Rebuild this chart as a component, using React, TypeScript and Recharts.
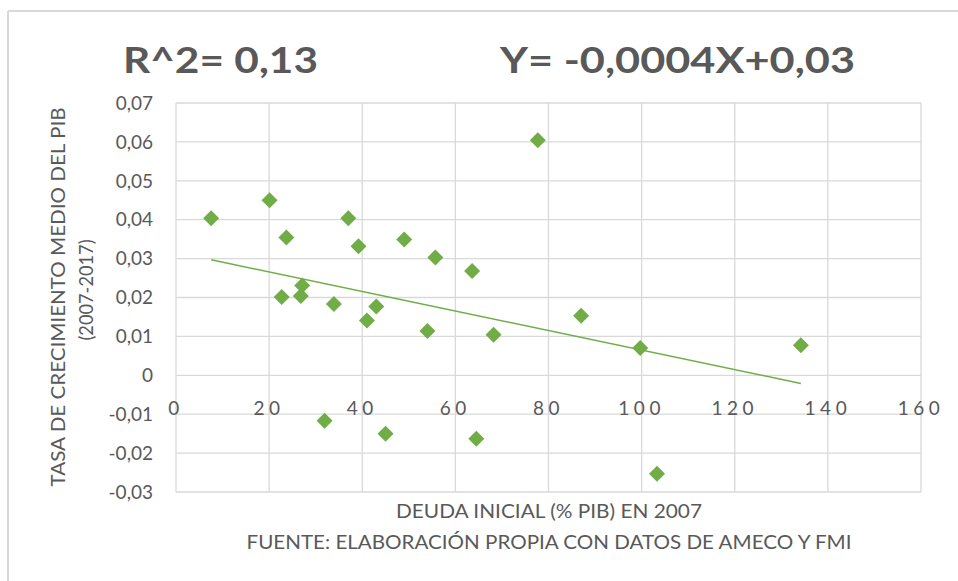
import React from 'react';
import { ScatterChart, Scatter, XAxis, YAxis, CartesianGrid, ReferenceLine } from 'recharts';

// deuda inicial (% PIB) 2007 vs tasa de crecimiento medio del PIB 2007-2017
const debtX = [
  7.55, 20.1, 23.7, 37.0, 39.2, 49.0, 55.7, 63.6, 77.7, 27.1, 22.7, 26.8,
  33.9, 43.0, 41.0, 54.0, 68.2, 31.9, 45.0, 64.5, 87.0, 99.7, 134.2, 103.3,
];
const growthY = [
  0.0404, 0.045, 0.0354, 0.0404, 0.0332, 0.0349, 0.0303, 0.0268, 0.0604, 0.0231, 0.0201, 0.0204,
  0.0183, 0.0177, 0.0141, 0.0114, 0.0104, -0.0117, -0.015, -0.0163, 0.0153, 0.007, 0.0077, -0.0253,
];

// trendline ends
const trendX = [7.55, 134.2];
const trendY = [0.0297, -0.0021];

const xTicks = [0, 20, 40, 60, 80, 100, 120, 140, 160];
const yTicks = [-0.03, -0.02, -0.01, 0, 0.01, 0.02, 0.03, 0.04, 0.05, 0.06, 0.07];

const GREEN = '#70AD47';
const TEXT = '#595959';
const GRID = '#d9d9d9';
const FONT = 'Lato, "Open Sans", sans-serif';

const points = debtX.map((x, i) => ({ x, y: growthY[i] }));

const fmtY = (v: number) => (v === 0 ? '0' : v.toFixed(2).replace('.', ','));

const Diamond = (props: any) => {
  const { cx, cy } = props;
  const r = 8;
  return (
    <polygon
      points={`${cx},${cy - r} ${cx + r},${cy} ${cx},${cy + r} ${cx - r},${cy}`}
      fill={GREEN}
    />
  );
};

// Excel puts the x labels next to the y=0 crossing, not under the plot
const XTick = (props: any) => {
  const { x, y, payload } = props;
  return (
    <text
      x={x}
      y={y - 87}
      textAnchor="middle"
      dominantBaseline="central"
      fill={TEXT}
      fontSize={19}
      fontFamily={FONT}
      letterSpacing={4.5}
    >
      {payload.value}
    </text>
  );
};

export default function App() {
  return (
    <div style={{ position: 'absolute', left: 0, top: 0, width: 958, height: 581, background: '#fff' }}>
      <ScatterChart width={958} height={581} margin={{ top: 103, right: 37, bottom: 0, left: 0 }}>
        <CartesianGrid stroke={GRID} strokeWidth={1.3} />
        <XAxis
          type="number"
          dataKey="x"
          domain={[0, 160]}
          ticks={xTicks}
          interval={0}
          axisLine={false}
          tickLine={false}
          tickSize={0}
          height={89}
          tick={<XTick />}
        />
        <YAxis
          type="number"
          dataKey="y"
          domain={[-0.03, 0.07]}
          ticks={yTicks}
          interval={0}
          width={176}
          axisLine={false}
          tickLine={false}
          tickSize={0}
          tickMargin={23}
          tickFormatter={fmtY}
          tick={{ fill: TEXT, fontSize: 19, fontFamily: FONT }}
        />
        <ReferenceLine
          segment={[
            { x: trendX[0], y: trendY[0] },
            { x: trendX[1], y: trendY[1] },
          ]}
          stroke={GREEN}
          strokeWidth={1.4}
        />
        <Scatter data={points} shape={Diamond} isAnimationActive={false} />
      </ScatterChart>
      <svg
        width={958}
        height={581}
        style={{ position: 'absolute', left: 0, top: 0, pointerEvents: 'none' }}
      >
        <line x1={8} y1={11} x2={958} y2={11} stroke={GRID} strokeWidth={2} />
        <line x1={8} y1={11} x2={8} y2={581} stroke={GRID} strokeWidth={2} />
        <text x={123} y={73} fill={TEXT} fontSize={37} fontWeight="bold" fontFamily={FONT} textLength={195} lengthAdjust="spacingAndGlyphs">
          R^2= 0,13
        </text>
        <text x={500} y={73} fill={TEXT} fontSize={37} fontWeight="bold" fontFamily={FONT} textLength={355} lengthAdjust="spacingAndGlyphs">
          Y= -0,0004X+0,03
        </text>
        <text x={549} y={518} textAnchor="middle" fill={TEXT} fontSize={19} fontFamily={FONT} textLength={306} lengthAdjust="spacingAndGlyphs">
          DEUDA INICIAL (% PIB) EN 2007
        </text>
        <text x={549} y={549} textAnchor="middle" fill={TEXT} fontSize={19} fontFamily={FONT} textLength={605} lengthAdjust="spacingAndGlyphs">
          FUENTE: ELABORACIÓN PROPIA CON DATOS DE AMECO Y FMI
        </text>
        <g transform="translate(57,297) rotate(-90)">
          <text x={0} y={0} textAnchor="middle" dominantBaseline="central" fill={TEXT} fontSize={19} fontFamily={FONT} textLength={379} lengthAdjust="spacingAndGlyphs">
            TASA DE CRECIMIENTO MEDIO DEL PIB
          </text>
        </g>
        <g transform="translate(85,290) rotate(-90)">
          <text x={0} y={0} textAnchor="middle" dominantBaseline="central" fill={TEXT} fontSize={19} fontFamily={FONT} textLength={101} lengthAdjust="spacingAndGlyphs">
            (2007-2017)
          </text>
        </g>
      </svg>
    </div>
  );
}
